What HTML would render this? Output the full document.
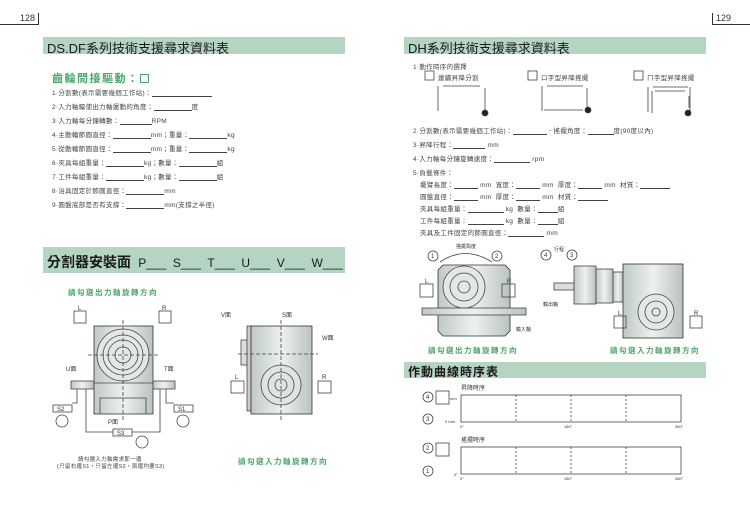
<!DOCTYPE html>
<html><head><meta charset="utf-8"><style>
*{margin:0;padding:0;box-sizing:border-box}
body{width:750px;height:520px;background:#fff;position:relative;overflow:hidden;font-family:"Liberation Sans","Noto Sans CJK TC",sans-serif;color:#333}
.a{position:absolute;white-space:nowrap}
.bar{position:absolute;background:#b5d4c1;color:#1a1a1a;white-space:nowrap;overflow:hidden}
.t{font-size:6.5px;color:#444;letter-spacing:.3px}
.g{color:#4aa56a;font-weight:bold;letter-spacing:1.5px}
.u{display:inline-block;border-bottom:0.8px solid #444;height:7px;vertical-align:bottom}
</style></head><body>
<div class="a" style="left:20px;top:13px;font-size:9px">128</div>
<div class="a" style="left:0;top:24px;width:38px;border-top:0.8px solid #333"></div>
<div class="a" style="left:38px;top:13px;height:12px;border-left:0.8px solid #333"></div>
<div class="a" style="left:716px;top:13px;font-size:9px">129</div>
<div class="a" style="left:712px;top:24px;width:38px;border-top:0.8px solid #333"></div>
<div class="a" style="left:712px;top:13px;height:12px;border-left:0.8px solid #333"></div>

<div class="bar" style="left:43px;top:37px;width:302px;height:17px;font-size:13px;padding:1px 4px">DS.DF系列技術支援尋求資料表</div>
<div class="a g" style="left:52px;top:70px;font-size:11px">齒輪間接驅動：<span style="display:inline-block;width:9px;height:9px;border:1px solid #4aa56a;vertical-align:-1px"></span></div>
<div class="a t" style="left:52px;top:87px">1·分割數(表示需要幾個工作站)：<span class="u" style="width:60px"></span></div>
<div class="a t" style="left:52px;top:101px">2·入力軸驅使出力軸運動的角度：<span class="u" style="width:38px"></span>度</div>
<div class="a t" style="left:52px;top:115px">3·入力軸每分鐘轉數：<span class="u" style="width:32px"></span>RPM</div>
<div class="a t" style="left:52px;top:129px">4·主動輪節圓直徑：<span class="u" style="width:38px"></span>mm；重量：<span class="u" style="width:38px"></span>kg</div>
<div class="a t" style="left:52px;top:143px">5·從動輪節圓直徑：<span class="u" style="width:38px"></span>mm；重量：<span class="u" style="width:38px"></span>kg</div>
<div class="a t" style="left:52px;top:157px">6·夾具每組重量：<span class="u" style="width:38px"></span>kg；數量：<span class="u" style="width:38px"></span>組</div>
<div class="a t" style="left:52px;top:171px">7·工件每組重量：<span class="u" style="width:38px"></span>kg；數量：<span class="u" style="width:38px"></span>組</div>
<div class="a t" style="left:52px;top:185px">8·治具固定於節圓直徑：<span class="u" style="width:38px"></span>mm</div>
<div class="a t" style="left:52px;top:199px">9·圓盤底部是否有支撐：<span class="u" style="width:38px"></span>mm(支撐之半徑)</div>

<div class="bar" style="left:43px;top:247px;width:302px;height:26px;font-size:14px;padding:5px 4px;font-weight:bold">分割器安裝面 <span style="font-weight:normal;font-size:12px">&nbsp;P___&nbsp; S___&nbsp; T___&nbsp; U___&nbsp; V___&nbsp; W___</span></div>
<div class="a g" style="left:68px;top:287px;font-size:7.5px">請勾選出力軸旋轉方向</div>
<div class="a g" style="left:238px;top:456px;font-size:7.5px">請勾選入力軸旋轉方向</div>
<div class="a t" style="left:78px;top:455px;font-size:5.5px">請勾選入力軸需求那一邊</div>
<div class="a t" style="left:57px;top:462px;font-size:5.5px">(只留右邊S1，只留左邊S2，兩邊均要S3)</div>

<svg class="a" style="left:0;top:0" width="750" height="520" font-family="Liberation Sans,Noto Sans CJK TC,sans-serif">
<defs><linearGradient id="gm" x1="0" x2="1"><stop offset="0" stop-color="#bfc9c4"/><stop offset=".5" stop-color="#eef1ef"/><stop offset="1" stop-color="#b9c3be"/></linearGradient></defs>
<g stroke="#444" stroke-width=".8" fill="none">
<rect x="74" y="311" width="12" height="12"/><rect x="159" y="311" width="12" height="12"/>
<text x="78" y="310" font-size="6" fill="#333" stroke="none">L</text><text x="162" y="310" font-size="6" fill="#333" stroke="none">R</text>
<rect x="71" y="381" width="23" height="8" fill="url(#gm)"/><rect x="152" y="381" width="23" height="8" fill="url(#gm)"/>
<rect x="94" y="326" width="59" height="88" fill="url(#gm)" stroke="#333"/>
<circle cx="123" cy="355" r="26" fill="#e3e8e5"/><circle cx="123" cy="355" r="20"/><circle cx="123" cy="355" r="15"/><circle cx="123" cy="355" r="8"/>
<line x1="94" y1="383" x2="153" y2="383"/>
<path d="M100 414 V398 H146 V414" />
<line x1="123" y1="320" x2="123" y2="420" stroke-dasharray="4 2"/><line x1="88" y1="355" x2="158" y2="355" stroke-dasharray="4 2"/>
<rect x="53" y="405" width="19" height="7"/><rect x="174" y="405" width="19" height="7"/><rect x="113" y="429" width="19" height="7"/>
<text x="57" y="411" font-size="6" fill="#333" stroke="none">S2</text><text x="178" y="411" font-size="6" fill="#333" stroke="none">S1</text><text x="117" y="435" font-size="6" fill="#333" stroke="none">S3</text>
<circle cx="62" cy="421" r="6"/><circle cx="183" cy="421" r="6"/><circle cx="142" cy="442" r="6"/>
<path d="M77 389 V403 H72 M86 389 V432 H113 M132 432 H160 V389 M166 389 V403 H174"/>
<text x="66" y="371" font-size="6" fill="#333" stroke="none">U面</text><text x="164" y="371" font-size="6" fill="#333" stroke="none">T面</text><text x="108" y="424" font-size="6" fill="#333" stroke="none">P面</text>
<text x="221" y="317" font-size="6" fill="#333" stroke="none">V面</text><text x="282" y="317" font-size="6" fill="#333" stroke="none">S面</text><text x="322" y="340" font-size="6" fill="#333" stroke="none">W面</text>
<rect x="241" y="340" width="8" height="25" fill="#ddd"/><rect x="247" y="326" width="4" height="85" fill="#ccc"/>
<rect x="251" y="326" width="61" height="88" fill="url(#gm)" stroke="#333"/>
<circle cx="281" cy="385" r="20" fill="#dfe4e1"/><circle cx="281" cy="385" r="13"/><circle cx="281" cy="385" r="6"/>
<line x1="281" y1="320" x2="281" y2="420" stroke-dasharray="4 2"/><line x1="238" y1="354" x2="318" y2="354" stroke-dasharray="4 2"/>
<rect x="231" y="381" width="13" height="12"/><rect x="318" y="381" width="13" height="12"/>
<text x="235" y="379" font-size="6" fill="#333" stroke="none">L</text><text x="322" y="379" font-size="6" fill="#333" stroke="none">R</text>
<rect x="425" y="71" width="9" height="9"/><rect x="528" y="71" width="9" height="9"/><rect x="634" y="71" width="9" height="9"/>
<path d="M438 86 V111 M485 88 V112 M443 86 H480"/><circle cx="485" cy="113" r="3" fill="#222"/>
<path d="M542 86 V111 M587 88 V111 M547 86 H583 M544 110 H583"/><circle cx="588" cy="110" r="3" fill="#222"/>
<path d="M648 87 V112 M652 91 V113 M690 87 V113 M689 96 V108 M653 87 H688 M655 91 H685"/><circle cx="688" cy="113" r="3" fill="#222"/>
<circle cx="433" cy="256" r="5"/><circle cx="497" cy="256" r="5"/><text x="431" y="258" font-size="6" fill="#333" stroke="none">1</text><text x="495" y="258" font-size="6" fill="#333" stroke="none">2</text>
<path d="M440 262 Q465 245 492 262"/>
<text x="456" y="248" font-size="5" fill="#333" stroke="none">搖擺角度</text>
<path d="M443 265 H505 L510 270 V331 L505 336 H443 L438 331 V270 Z" fill="url(#gm)" stroke="#333"/>
<circle cx="464" cy="287" r="21" fill="#e3e8e5"/><circle cx="464" cy="287" r="14"/><circle cx="464" cy="287" r="6"/>
<rect x="422" y="308" width="104" height="7" fill="url(#gm)"/>
<rect x="420" y="284" width="13" height="13"/><rect x="502" y="284" width="13" height="13"/>
<text x="425" y="283" font-size="6" fill="#333" stroke="none">L</text><text x="507" y="283" font-size="6" fill="#333" stroke="none">R</text>
<text x="516" y="331" font-size="5" fill="#333" stroke="none">輸入軸</text>
<circle cx="546" cy="255" r="5"/><circle cx="572" cy="255" r="5"/><text x="544" y="257" font-size="6" fill="#333" stroke="none">4</text><text x="570" y="257" font-size="6" fill="#333" stroke="none">3</text>
<text x="554" y="251" font-size="5" fill="#333" stroke="none">行程</text>
<rect x="554" y="283" width="20" height="7" fill="#ddd"/>
<rect x="574" y="266" width="22" height="38" fill="url(#gm)"/><rect x="596" y="269" width="17" height="34" fill="url(#gm)"/><rect x="613" y="272" width="10" height="30" fill="url(#gm)"/>
<rect x="623" y="264" width="60" height="74" fill="url(#gm)" stroke="#333"/>
<circle cx="656" cy="312" r="18" fill="#e3e8e5"/><circle cx="656" cy="312" r="11"/><circle cx="656" cy="312" r="4"/>
<rect x="614" y="316" width="12" height="12"/><rect x="690" y="316" width="12" height="12"/>
<text x="618" y="315" font-size="6" fill="#333" stroke="none">L</text><text x="694" y="315" font-size="6" fill="#333" stroke="none">R</text>
<text x="543" y="306" font-size="5" fill="#333" stroke="none">輸出軸</text>
<rect x="461" y="395" width="220" height="27"/><rect x="461" y="447" width="220" height="27"/>
<g stroke-dasharray="2 2"><line x1="516" y1="395" x2="516" y2="422"/><line x1="571" y1="395" x2="571" y2="422"/><line x1="626" y1="395" x2="626" y2="422"/><line x1="516" y1="447" x2="516" y2="474"/><line x1="571" y1="447" x2="571" y2="474"/><line x1="626" y1="447" x2="626" y2="474"/></g>
<rect x="436" y="391" width="13" height="13"/><rect x="436" y="443" width="13" height="13"/>
<circle cx="428" cy="397" r="5"/><circle cx="428" cy="419" r="5"/><circle cx="428" cy="448" r="5"/><circle cx="428" cy="471" r="5"/>
</g>
<g font-size="6" fill="#333">
<text x="426" y="399">4</text><text x="426" y="421">3</text><text x="426" y="450">2</text><text x="426" y="473">1</text>
<text x="461" y="390">昇降時序</text><text x="461" y="442">搖擺時序</text>
<text x="450" y="400" font-size="4">mm</text><text x="445" y="423" font-size="4">0 mm</text><text x="454" y="476" font-size="4">0°</text>
<text x="460" y="428" font-size="4">0°</text><text x="564" y="428" font-size="4">180°</text><text x="675" y="428" font-size="4">360°</text>
<text x="460" y="480" font-size="4">0°</text><text x="564" y="480" font-size="4">180°</text><text x="675" y="480" font-size="4">360°</text>
</g>
</svg>

<div class="bar" style="left:404px;top:37px;width:302px;height:17px;font-size:13px;padding:1px 4px">DH系列技術支援尋求資料表</div>
<div class="a t" style="left:413px;top:61px">1·動作時序的選擇</div>
<div class="a t" style="left:438px;top:72px">連續昇降分割</div>
<div class="a t" style="left:541px;top:72px">口字型昇降搖擺</div>
<div class="a t" style="left:647px;top:72px">ㄇ字型昇降搖擺</div>
<div class="a t" style="left:413px;top:125px">2·分割數(表示需要幾個工作站)：<span class="u" style="width:34px"></span>．搖擺角度：<span class="u" style="width:26px"></span>度(90度以內)</div>
<div class="a t" style="left:413px;top:139px">3·昇降行程：<span class="u" style="width:32px"></span> mm</div>
<div class="a t" style="left:413px;top:153px">4·入力軸每分鐘旋轉速度：<span class="u" style="width:36px"></span> rpm</div>
<div class="a t" style="left:413px;top:167px">5·負載條件：</div>
<div class="a t" style="left:420px;top:179px">擺臂長度：<span class="u" style="width:24px"></span> mm&nbsp; 寬度：<span class="u" style="width:24px"></span> mm&nbsp; 厚度：<span class="u" style="width:24px"></span> mm&nbsp; 材質：<span class="u" style="width:30px"></span></div>
<div class="a t" style="left:420px;top:191px">圓盤直徑：<span class="u" style="width:24px"></span> mm&nbsp; 厚度：<span class="u" style="width:24px"></span> mm&nbsp; 材質：<span class="u" style="width:30px"></span></div>
<div class="a t" style="left:420px;top:203px">夾具每組重量：<span class="u" style="width:36px"></span> kg&nbsp; 數量：<span class="u" style="width:20px"></span>組</div>
<div class="a t" style="left:420px;top:215px">工件每組重量：<span class="u" style="width:36px"></span> kg&nbsp; 數量：<span class="u" style="width:20px"></span>組</div>
<div class="a t" style="left:420px;top:227px">夾具及工件固定的節圓直徑：<span class="u" style="width:36px"></span> mm</div>
<div class="a g" style="left:428px;top:345px;font-size:7.5px">請勾選出力軸旋轉方向</div>
<div class="a g" style="left:610px;top:345px;font-size:7.5px">請勾選入力軸旋轉方向</div>
<div class="bar" style="left:404px;top:362px;width:302px;height:16px;font-size:12px;padding:1px 4px;font-weight:bold;letter-spacing:1px">作動曲線時序表</div>
</body></html>
